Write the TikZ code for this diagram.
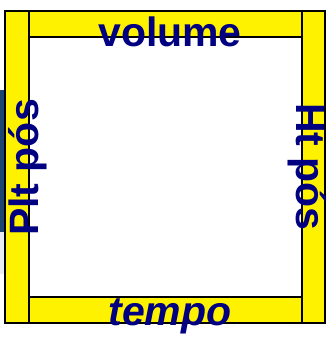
\documentclass[tikz,border=0pt]{standalone}
\usepackage{fontspec}
\setmainfont{Liberation Sans}
\usepackage{tikz}
\usetikzlibrary{positioning}
\definecolor{navytxt}{RGB}{0,0,128}
\definecolor{bgstrip}{RGB}{28,70,112}
\definecolor{bggray}{RGB}{232,236,240}

\begin{document}
\begin{tikzpicture}[x=1pt,y=-1pt,
  lbl/.style={text=navytxt,font=\fontsize{41}{41}\selectfont\bfseries,inner sep=0pt,anchor=base},
  bar/.style={draw=black,line width=2pt,fill=yellow}]
\useasboundingbox (0,0) rectangle (328,340);
% background pieces at the left edge
\fill[bgstrip] (0,90) rectangle (6,232);
\fill[bggray] (0,232) rectangle (6,274);
% frame
\draw[bar] (5,11) rectangle (325,323);
\draw[draw=black,line width=2pt,fill=white] (29,37) rectangle (302,297);
\draw[line width=2pt] (29,11) -- (29,323);
\draw[line width=2pt] (302,11) -- (302,323);
% labels
\node[lbl] (vol) at (170,46.5) {volume};
\node[lbl,font=\fontsize{41}{41}\selectfont\bfseries\itshape] (tmp) at (170,325) {tempo};
\node[lbl,rotate=90] (plt) at (38,167.5) {Plt pós};
\node[lbl,rotate=-90] (ht) at (296,167) {Ht pós};
\end{tikzpicture}
\end{document}
